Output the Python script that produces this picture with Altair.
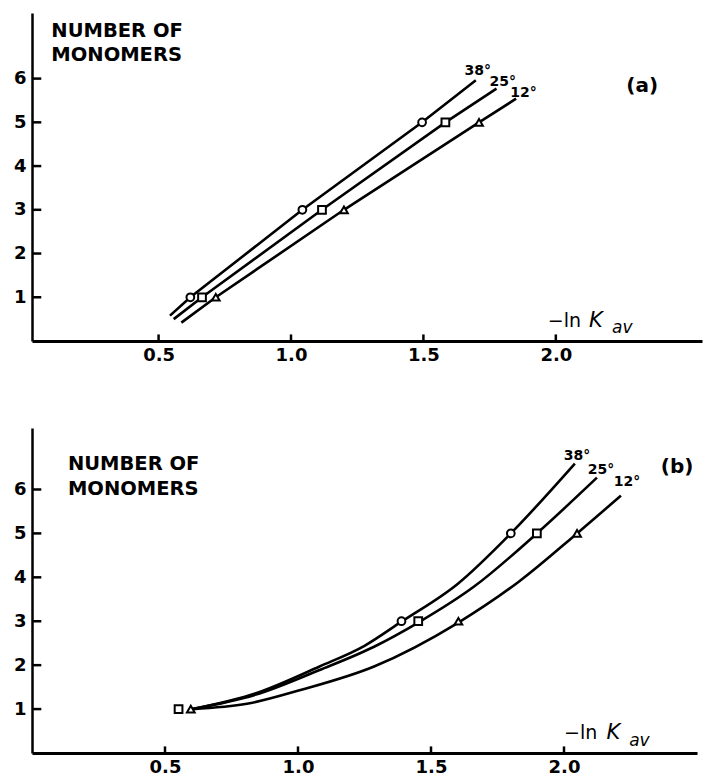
import altair as alt
import pandas as pd

FONT = "DejaVu Sans"
SERIES = ["38°", "25°", "12°"]
SHAPES = ["circle", "square", "triangle-up"]

X_TICKS = [0.5, 1.0, 1.5, 2.0]
Y_TICKS = [1, 2, 3, 4, 5, 6]

# ---------------- panel (a) ----------------
a_line_38_x = [0.543, 0.62, 1.043, 1.495, 1.698]
a_line_38_y = [0.58, 1.0, 3.0, 5.0, 5.96]
a_line_25_x = [0.557, 0.664, 1.117, 1.583, 1.776]
a_line_25_y = [0.50, 1.0, 3.0, 5.0, 5.77]
a_line_12_x = [0.586, 0.716, 1.20, 1.71, 1.85]
a_line_12_y = [0.42, 1.0, 3.0, 5.0, 5.54]

a_pts_38_x = [0.62, 1.043, 1.495]
a_pts_38_y = [1, 3, 5]
a_pts_25_x = [0.664, 1.117, 1.583]
a_pts_25_y = [1, 3, 5]
a_pts_12_x = [0.716, 1.20, 1.71]
a_pts_12_y = [1, 3, 5]

a_deg_x = [1.705, 1.80, 1.878]
a_deg_y = [6.18, 5.93, 5.68]

# ---------------- panel (b) ----------------
b_line_38_x = [0.603, 0.842, 1.081, 1.25, 1.389, 1.60, 1.80, 2.041]
b_line_38_y = [1.0, 1.36, 1.97, 2.44, 2.99, 3.85, 5.0, 6.59]
b_line_25_x = [0.603, 0.842, 1.081, 1.286, 1.452, 1.662, 1.898, 2.124]
b_line_25_y = [1.0, 1.33, 1.89, 2.42, 2.97, 3.79, 5.0, 6.27]
b_line_12_x = [0.603, 0.808, 1.013, 1.286, 1.603, 1.83, 2.049, 2.214]
b_line_12_y = [1.0, 1.12, 1.44, 1.97, 2.97, 3.9, 5.0, 5.86]

b_pts_38_x = [1.389, 1.80]
b_pts_38_y = [3, 5]
b_pts_25_x = [0.551, 1.452, 1.898]
b_pts_25_y = [1, 3, 5]
b_pts_12_x = [0.597, 1.603, 2.049]
b_pts_12_y = [1, 3, 5]

b_deg_x = [2.049, 2.139, 2.237]
b_deg_y = [6.77, 6.45, 6.16]


def lines_df(xs, ys):
    rows = []
    for s, lx, ly in zip(SERIES, xs, ys):
        for i, (x, y) in enumerate(zip(lx, ly)):
            rows.append({"s": s, "x": x, "y": y, "o": i})
    return pd.DataFrame(rows)


def pts_df(xs, ys):
    rows = []
    for s, lx, ly in zip(SERIES, xs, ys):
        for x, y in zip(lx, ly):
            rows.append({"s": s, "x": x, "y": y})
    return pd.DataFrame(rows)


def panel(lines, pts, deg_x, deg_y, ylab_x, ylab_y, tag, tag_x, tag_y,
          lnk_x, lnk_y, xmin, xmax, ymax, w, h, interp):
    X = alt.X("x:Q", scale=alt.Scale(domain=[xmin, xmax], nice=False, zero=False),
              axis=alt.Axis(values=X_TICKS, format=".1f", tickSize=0, labelPadding=5,
                            grid=False, title=None, domainWidth=3, domainColor="black",
                            labelFontSize=18, labelFontWeight="bold", labelFont=FONT,
                            labelColor="black"))
    Y = alt.Y("y:Q", scale=alt.Scale(domain=[0, ymax], nice=False, zero=False),
              axis=alt.Axis(values=Y_TICKS, tickSize=0, labelPadding=6,
                            grid=False, title=None, domainWidth=2.5, domainColor="black",
                            labelFontSize=18, labelFontWeight="bold", labelFont=FONT,
                            labelColor="black"))

    line = alt.Chart(lines).mark_line(color="black", strokeWidth=2.6,
                                      interpolate=interp).encode(
        x=X, y=Y, detail="s:N", order="o:Q")

    points = alt.Chart(pts).mark_point(filled=True, fill="white", stroke="black",
                                       strokeWidth=2, size=60, opacity=1).encode(
        x=X, y=Y,
        shape=alt.Shape("s:N", scale=alt.Scale(domain=SERIES, range=SHAPES), legend=None))

    xt = pd.DataFrame({"x": X_TICKS, "y": [0] * len(X_TICKS),
                       "y2": [0.15] * len(X_TICKS)})
    xticks = alt.Chart(xt).mark_rule(color="black", strokeWidth=2.5).encode(
        x=X, y=Y, y2="y2:Q")
    yt = pd.DataFrame({"y": Y_TICKS, "x": [xmin] * len(Y_TICKS),
                       "x2": [xmin + 0.035] * len(Y_TICKS)})
    yticks = alt.Chart(yt).mark_rule(color="black", strokeWidth=2.5).encode(
        x=X, x2="x2:Q", y=Y)

    deg = pd.DataFrame({"text": SERIES, "x": deg_x, "y": deg_y})
    degt = alt.Chart(deg).mark_text(align="center", baseline="middle", font=FONT,
                                    fontSize=14, fontWeight="bold", color="black").encode(
        x=X, y=Y, text="text:N")

    ylab = pd.DataFrame({"text": ["NUMBER OF", "MONOMERS"], "x": [ylab_x, ylab_x],
                         "y": ylab_y})
    ylabt = alt.Chart(ylab).mark_text(align="left", baseline="middle", font=FONT,
                                      fontSize=19.5, fontWeight="bold", color="black").encode(
        x=X, y=Y, text="text:N")

    tagd = pd.DataFrame({"text": [tag], "x": [tag_x], "y": [tag_y]})
    tagt = alt.Chart(tagd).mark_text(align="center", baseline="middle", font=FONT,
                                     fontSize=20, fontWeight="bold", color="black").encode(
        x=X, y=Y, text="text:N")

    ln = pd.DataFrame({"text": ["−ln"], "x": [lnk_x[0]], "y": [lnk_y]})
    lnt = alt.Chart(ln).mark_text(align="left", baseline="middle", font=FONT,
                                  fontSize=19, color="black").encode(
        x=X, y=Y, text="text:N")
    kd = pd.DataFrame({"text": ["K"], "x": [lnk_x[1]], "y": [lnk_y]})
    kt = alt.Chart(kd).mark_text(align="left", baseline="middle", font=FONT,
                                 fontSize=21, fontStyle="italic", color="black").encode(
        x=X, y=Y, text="text:N")
    avd = pd.DataFrame({"text": ["av"], "x": [lnk_x[2]], "y": [lnk_y - 0.17]})
    avt = alt.Chart(avd).mark_text(align="left", baseline="middle", font=FONT,
                                   fontSize=17, fontStyle="italic", color="black").encode(
        x=X, y=Y, text="text:N")

    return alt.layer(line, points, xticks, yticks, degt, ylabt, tagt, lnt, kt, avt).properties(
        width=w, height=h)


pa = panel(lines_df([a_line_38_x, a_line_25_x, a_line_12_x],
                    [a_line_38_y, a_line_25_y, a_line_12_y]),
           pts_df([a_pts_38_x, a_pts_25_x, a_pts_12_x],
                  [a_pts_38_y, a_pts_25_y, a_pts_12_y]),
           a_deg_x, a_deg_y, 0.095, [7.08, 6.53], "(a)", 2.326, 5.82,
           [1.97, 2.125, 2.212], 0.46, 0.022, 2.552, 7.5, 670, 328, "linear")

pb = panel(lines_df([b_line_38_x, b_line_25_x, b_line_12_x],
                    [b_line_38_y, b_line_25_y, b_line_12_y]),
           pts_df([b_pts_38_x, b_pts_25_x, b_pts_12_x],
                  [b_pts_38_y, b_pts_25_y, b_pts_12_y]),
           b_deg_x, b_deg_y, 0.135, [6.59, 6.02], "(b)", 2.425, 6.52,
           [2.0, 2.16, 2.245], 0.45, 0.0, 2.5, 7.4, 665, 325, "monotone")

chart = alt.vconcat(pa, pb, spacing=64).configure_view(stroke=None)

chart.save("out.html", embed_options={"renderer": "svg", "actions": False})
